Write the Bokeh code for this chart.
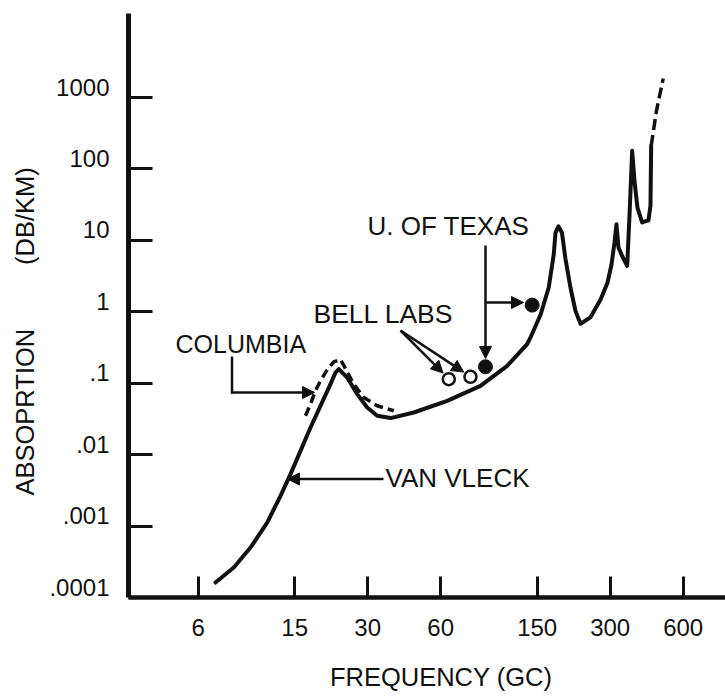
from bokeh.plotting import figure
from bokeh.models import Range1d, LogAxis, LogScale, FixedTicker, Label, Arrow, NormalHead, Title
from bokeh.embed import file_html
from bokeh.resources import INLINE

# ---------------- data ----------------
# Van Vleck theoretical curve: frequency (GC) / absorption (dB/km)
vv_freq = [7.07, 8.41, 9.86, 11.55, 13.11, 14.41, 15.85, 17.43, 19.16, 21.07,
           22.10, 22.80, 23.90, 24.70, 27.15, 29.86, 32.83, 37.25, 46.48, 63.83,
           87.58, 112.8, 136.4, 140.8, 154.8, 167.4, 175.6, 178.5, 183.6, 189.8,
           196.2, 205.8, 215.8, 226.3, 248.8, 273.6, 292.4, 303.7, 312.5, 318.5,
           324.6, 337.2, 352.6, 360.4, 369.7, 377.9, 388.8, 406.4, 431.6, 439.9,
           442.8]
vv_abs = [1.62e-4, 2.63e-4, 5.01e-4, 1.12e-3, 2.65e-3, 5.34e-3, 0.0113, 0.0240, 0.0483, 0.0972,
          0.141, 0.158, 0.134, 0.120, 0.0704, 0.0457, 0.0350, 0.0325, 0.0389, 0.0567,
          0.0920, 0.175, 0.353, 0.437, 0.907, 2.19, 6.42, 12.8, 15.7, 12.8,
          5.52, 2.17, 1.03, 0.679, 0.837, 1.47, 2.55, 4.55, 9.24, 16.8,
          7.94, 5.89, 4.40, 22.1, 179.0, 68.2, 28.6, 17.8, 19.1, 30.5,
          211.0]
# extrapolated (dashed) continuation
vv_ext_freq = [442.8, 465.6, 496.4]
vv_ext_abs = [211.0, 651.0, 1845.0]

# Columbia measurements (dashed)
col_freq = [16.62, 17.43, 18.28, 19.16, 20.42, 21.75, 23.17, 24.70, 26.29, 28.91, 32.83, 38.43]
col_abs = [0.0350, 0.0510, 0.0783, 0.108, 0.154, 0.199, 0.216, 0.144, 0.0972, 0.0631, 0.0483, 0.0411]

# Bell Labs points (open circles)
bell_freq = [64.8, 79.6]
bell_abs = [0.114, 0.123]

# U. of Texas points (filled circles)
texas_freq = [91.8, 143.0]
texas_abs = [0.170, 1.24]

xticks = [6, 15, 30, 60, 150, 300, 600]
xtick_labels = ["6", "15", "30", "60", "150", "300", "600"]
yticks = [0.0001, 0.001, 0.01, 0.1, 1, 10, 100, 1000]
ytick_labels = [".0001", ".001", ".01", ".1", "1", "10", "100", "1000"]

x_title = "FREQUENCY (GC)"
y_title = "ABSOPRTION" + "\u00a0" * 9 + "(DB/KM)"

# ---------------- figure ----------------
W, H = 725, 698
LEFT, TOP, BOTTOM = 128, 13, 101
FONT = "Liberation Sans"
INK = "#111111"

p = figure(width=W, height=H, x_axis_type="log", y_axis_type="log",
           x_range=Range1d(3.095, 896.9), y_range=Range1d(1e-4, 1.5e4),
           output_backend="svg", toolbar_location=None,
           min_border_left=LEFT, min_border_right=0,
           min_border_top=TOP, min_border_bottom=BOTTOM)
p.outline_line_color = None
p.grid.visible = False
p.background_fill_color = "white"
p.border_fill_color = "white"

# x axis (title shifted right of the frame centre with leading spaces)
xa = p.xaxis[0]
xa.ticker = FixedTicker(ticks=xticks, minor_ticks=[])
xa.major_label_overrides = {t: l for t, l in zip(xticks, xtick_labels)}
xa.axis_line_width = 4.5
xa.axis_line_color = INK
xa.major_tick_in = 21
xa.major_tick_out = 0
xa.major_tick_line_width = 3
xa.major_tick_line_color = INK
xa.minor_tick_line_color = None
xa.major_label_standoff = 21
xa.major_label_text_font = FONT
xa.major_label_text_font_size = "24px"
xa.major_label_text_color = INK
xa.axis_label = "\u00a0" * 4 + x_title
xa.axis_label_standoff = 24
xa.axis_label_text_font = FONT
xa.axis_label_text_font_size = "25.5px"
xa.axis_label_text_font_style = "normal"
xa.axis_label_text_color = INK

# y axis (line + ticks only)
ya = p.yaxis[0]
ya.ticker = FixedTicker(ticks=yticks, minor_ticks=[])
ya.axis_line_width = 5
ya.axis_line_color = INK
ya.major_tick_in = 24
ya.major_tick_out = 0
ya.major_tick_line_width = 3
ya.major_tick_line_color = INK
ya.minor_tick_line_color = None
ya.major_label_overrides = {t: "" for t in yticks}
ya.major_label_text_font_size = "2px"
ya.major_label_standoff = 0

# y tick labels sit slightly above their ticks in the original
shift = 10 ** (10.5 / 71.43)
p.extra_y_ranges = {"lab": Range1d(1e-4 / shift, 1.5e4 / shift)}
p.extra_y_scales = {"lab": LogScale()}
lab = LogAxis(y_range_name="lab", ticker=FixedTicker(ticks=yticks, minor_ticks=[]),
              axis_line_color=None, major_tick_line_color=None, minor_tick_line_color=None,
              major_tick_in=0, major_tick_out=0, major_label_standoff=19,
              major_label_overrides={t: l for t, l in zip(yticks, ytick_labels)},
              major_label_text_font=FONT, major_label_text_font_size="24px",
              major_label_text_color=INK)
p.add_layout(lab, "left")

# y title
p.add_layout(Title(text=y_title, align="left", offset=102, standoff=16,
                   text_font=FONT, text_font_size="25.5px", text_font_style="normal",
                   text_color=INK), "left")

# ---------------- curves and points ----------------
p.line(vv_freq, vv_abs, line_width=4, line_color=INK, line_join="round", line_cap="round")
p.line(vv_ext_freq, vv_ext_abs, line_width=3.5, line_color=INK, line_dash="11 5")
p.line(col_freq, col_abs, line_width=3.5, line_color=INK, line_dash="9 5")
p.scatter(bell_freq, bell_abs, size=12, marker="circle", fill_color="white",
          line_color=INK, line_width=2.5)
p.scatter(texas_freq, texas_abs, size=14, marker="circle", fill_color=INK,
          line_color=INK, line_width=1)

# ---------------- annotations ----------------
def sx(px):
    return px - LEFT

def sy(py):
    return (H - BOTTOM) - py

def label(txt, px, py, size="26px"):
    p.add_layout(Label(x=sx(px), y=sy(py), x_units="screen", y_units="screen",
                       text=txt, text_font=FONT, text_font_size=size, text_color=INK,
                       text_align="left", text_baseline="middle"))

def arrow(x0, y0, x1, y1, head=True):
    kw = dict(x_start=sx(x0), y_start=sy(y0), x_end=sx(x1), y_end=sy(y1),
              start_units="screen", end_units="screen",
              line_width=2.5, line_color=INK, start=None)
    if head:
        kw["end"] = NormalHead(size=12, fill_color=INK, line_color=INK, line_width=1)
    else:
        kw["end"] = None
    p.add_layout(Arrow(**kw))

label("COLUMBIA", 175, 343, "25px")
label("VAN VLECK", 385, 477.5, "26px")
label("BELL LABS", 313, 313, "26.5px")
label("U. OF TEXAS", 367, 225, "26px")

arrow(231.5, 356, 231.5, 393, head=False)
arrow(230.5, 392, 314, 392)
arrow(383, 478.5, 287, 478.5)
arrow(400, 330, 442.6, 372.6)
arrow(400, 330, 463.3, 371.6)
arrow(485, 245, 485, 358)
arrow(485, 302, 523, 302)

open("out.html", "w").write(file_html(p, INLINE))
